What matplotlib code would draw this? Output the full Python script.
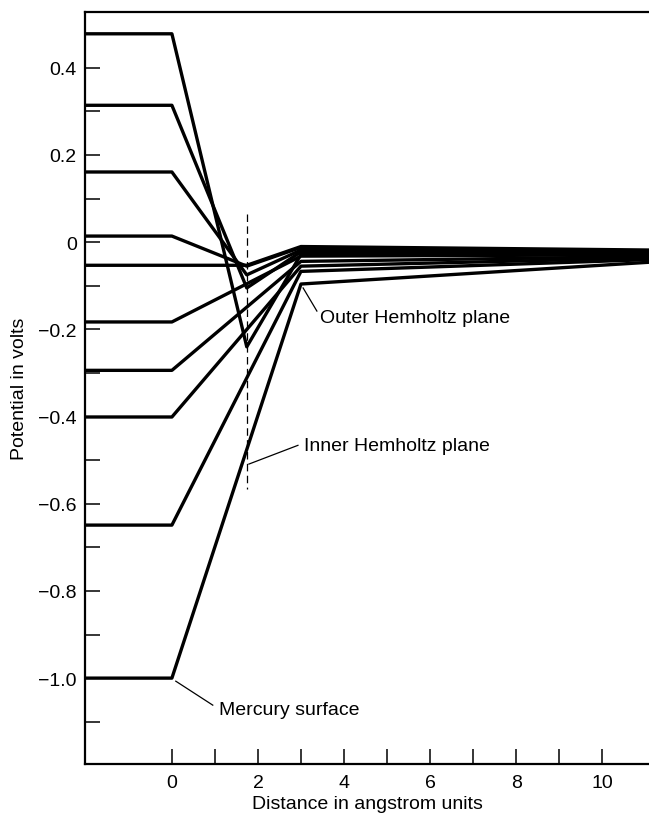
import matplotlib
matplotlib.use("Agg")
import matplotlib.pyplot as plt
from matplotlib.ticker import FixedLocator

plt.rcParams['font.family'] = ['Liberation Sans', 'DejaVu Sans']

# distancias (angstrom) de los puntos de quiebre
x_left = -2.0
x_surface = 0.0
x_ihp = 1.74
x_ohp = 3.0
x_right = 11.1

# potencial en la superficie de mercurio (V)
v_surface = [0.478, 0.314, 0.161, 0.014, -0.053, -0.183, -0.294, -0.401, -0.649, -1.0]
# potencial en el plano interno (None = sin quiebre)
v_ihp = [-0.24, -0.105, -0.075, -0.055, -0.053, None, None, None, None, None]
# potencial en el plano externo
v_ohp = [-0.028, -0.022, -0.018, -0.012, -0.010, -0.032, -0.044, -0.055, -0.067, -0.096]
# potencial lejos de la superficie
v_far = [-0.027, -0.024, -0.022, -0.020, -0.018, -0.029, -0.033, -0.036, -0.040, -0.046]

ytick_major = [0.4, 0.2, 0.0, -0.2, -0.4, -0.6, -0.8, -1.0]
ytick_labels = ['0.4', '0.2', '0', '\u22120.2', '\u22120.4', '\u22120.6', '\u22120.8', '\u22121.0']

fig = plt.figure(figsize=(6.49, 8.2), dpi=100)
ax = fig.add_axes([85 / 649, 55 / 820, 1 - 85 / 649, (765 - 13) / 820])

for i in range(len(v_surface)):
    xs = [x_left, x_surface]
    ys = [v_surface[i], v_surface[i]]
    if v_ihp[i] is not None:
        xs.append(x_ihp)
        ys.append(v_ihp[i])
    xs += [x_ohp, x_right]
    ys += [v_ohp[i], v_far[i]]
    ax.plot(xs, ys, color='black', lw=2.4, solid_joinstyle='round', solid_capstyle='butt')

# plano interno de Helmholtz (linea punteada)
ax.plot([x_ihp, x_ihp], [0.064, -0.567], color='black', lw=0.9, dashes=(6, 3.5))

# etiquetas con lineas guia
ax.plot([3.05, 3.37], [-0.105, -0.158], color='black', lw=0.9)
ax.text(3.44, -0.172, 'Outer Hemholtz plane', fontsize=14, ha='left', va='center')

ax.plot([1.79, 2.93], [-0.509, -0.466], color='black', lw=0.9)
ax.text(3.07, -0.466, 'Inner Hemholtz plane', fontsize=14, ha='left', va='center')

ax.plot([0.09, 0.95], [-1.007, -1.062], color='black', lw=0.9)
ax.text(1.1, -1.073, 'Mercury surface', fontsize=14, ha='left', va='center')

ax.set_xlim(x_left - 0.02, 11.09)
ax.set_ylim(-1.197, 0.528)

ax.set_xticks([0, 2, 4, 6, 8, 10])
ax.xaxis.set_minor_locator(FixedLocator([1, 3, 5, 7, 9]))
ax.set_yticks(ytick_major)
ax.set_yticklabels(ytick_labels)
ax.yaxis.set_minor_locator(FixedLocator([0.3, 0.1, -0.1, -0.3, -0.5, -0.7, -0.9, -1.1]))

ax.tick_params(which='both', direction='in', length=11, width=1.1, labelsize=14, color='black')
ax.tick_params(axis='y', pad=6)
ax.tick_params(axis='x', pad=7)
ax.tick_params(top=False, right=False, which='both')

for side in ['left', 'bottom', 'top']:
    ax.spines[side].set_linewidth(1.6)
ax.spines['right'].set_visible(False)

ax.set_xlabel('Distance in angstrom units', fontsize=14, labelpad=3)
ax.set_ylabel('Potential in volts', fontsize=14, labelpad=7)

fig.savefig('out.png', dpi=100)
